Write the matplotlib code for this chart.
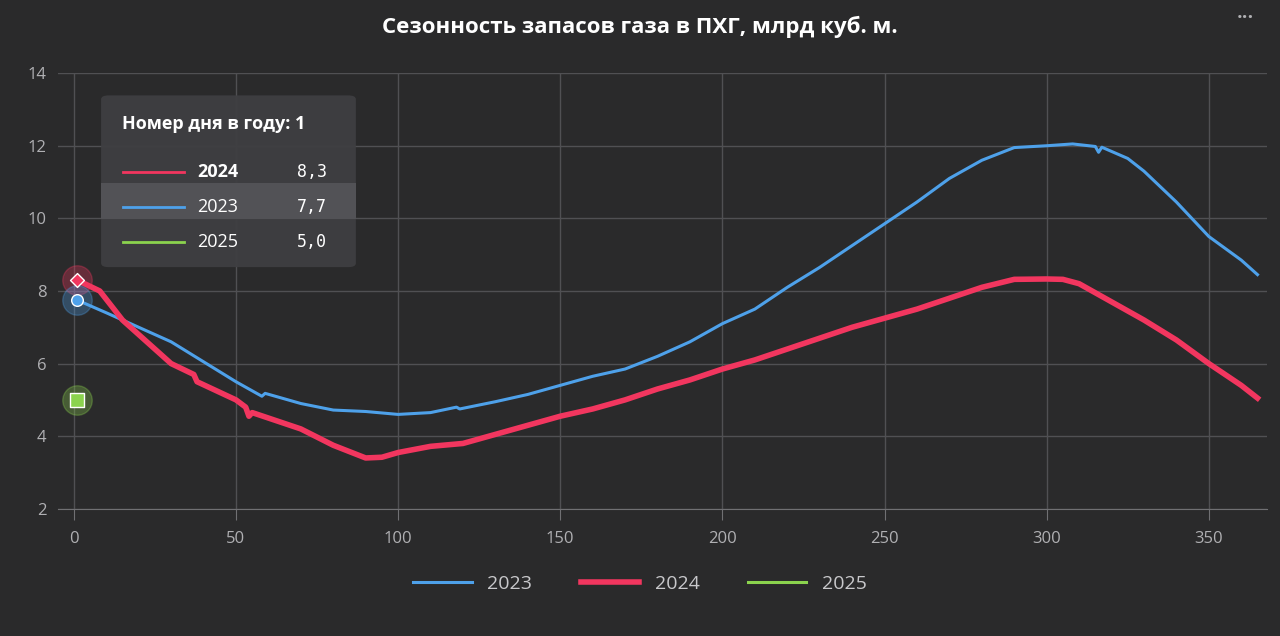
import numpy as np
import matplotlib.pyplot as plt
from matplotlib.patches import FancyBboxPatch

days_2023 = [1, 10, 20, 30, 40, 50, 58, 59, 70, 80, 90, 100, 110, 118, 119, 130, 140, 150, 160, 170, 180,
             190, 200, 210, 220, 230, 240, 250, 260, 270, 280, 290, 300, 308, 315, 316, 317, 325, 330,
             340, 350, 360, 365]
vals_2023 = [7.75, 7.4, 7.0, 6.6, 6.05, 5.5, 5.1, 5.18, 4.9, 4.72, 4.68, 4.6, 4.65, 4.8, 4.75, 4.95, 5.15,
             5.4, 5.65, 5.85, 6.2, 6.6, 7.1, 7.5, 8.1, 8.65, 9.25, 9.85, 10.45, 11.1, 11.6, 11.95, 12.0,
             12.05, 11.98, 11.82, 11.96, 11.65, 11.3, 10.45, 9.5, 8.85, 8.45]
days_2024 = [1, 8, 15, 20, 30, 37, 38, 50, 53, 54, 55, 60, 70, 80, 90, 95, 100, 110, 120, 130, 140, 150,
             160, 170, 180, 190, 200, 210, 220, 230, 240, 250, 260, 270, 280, 290, 300, 305, 310, 320,
             330, 340, 350, 355, 360, 365]
vals_2024 = [8.3, 8.0, 7.2, 6.8, 6.0, 5.7, 5.5, 5.0, 4.8, 4.55, 4.65, 4.5, 4.2, 3.75, 3.4, 3.42, 3.55,
             3.72, 3.8, 4.05, 4.3, 4.55, 4.75, 5.0, 5.3, 5.55, 5.85, 6.1, 6.4, 6.7, 7.0, 7.25, 7.5, 7.8,
             8.1, 8.32, 8.33, 8.32, 8.2, 7.7, 7.2, 6.65, 6.0, 5.7, 5.4, 5.05]
days_2025 = [1]
vals_2025 = [5.0]

bg = '#2a2a2b'
c23, c24, c25 = '#4ea1ea', '#f2365f', '#8bd34e'
plt.rcParams['font.family'] = ['Open Sans', 'DejaVu Sans']

fig = plt.figure(figsize=(12.8, 6.36), dpi=100, facecolor=bg)
ax = fig.add_axes([0.045, 0.2, 0.945, 0.685], facecolor=bg)
ax.plot(days_2023, vals_2023, color=c23, lw=2.2, label='2023')
ax.plot(days_2024, vals_2024, color=c24, lw=4, label='2024')
ax.plot(days_2025, vals_2025, color=c25, lw=2.2, label='2025')

ax.scatter(days_2024[:1], vals_2024[:1], s=450, color=c24, alpha=0.3, zorder=4)
ax.scatter(days_2024[:1], vals_2024[:1], s=50, marker='D', color=c24, edgecolor='white', zorder=5)
ax.scatter(days_2023[:1], vals_2023[:1], s=450, color=c23, alpha=0.3, zorder=4)
ax.scatter(days_2023[:1], vals_2023[:1], s=70, color=c23, edgecolor='white', zorder=5)
ax.scatter(days_2025[:1], vals_2025[:1], s=450, color=c25, alpha=0.3, zorder=4)
ax.scatter(days_2025[:1], vals_2025[:1], s=100, marker='s', color=c25, edgecolor='white', zorder=5)

ax.set_xlim(-5, 368)
ax.set_ylim(2, 14)
ax.set_xticks(range(0, 351, 50))
ax.set_yticks(range(2, 15, 2))
ax.grid(color='#505053', lw=1)
for s in ax.spines.values():
    s.set_visible(False)
ax.spines['bottom'].set_visible(True)
ax.spines['bottom'].set_color('#707073')
ax.tick_params(colors='#b0b0b3', labelsize=12, length=0, pad=8)
ax.tick_params(axis='x', length=8, color='#707073', direction='out')

fig.suptitle('Сезонность запасов газа в ПХГ, млрд куб. м.', color='white', fontsize=16,
             fontweight='bold', y=0.975)
fig.text(0.98, 0.965, '•••', color='#b0b0b3', fontsize=11, ha='right')

leg = fig.legend(loc='lower center', ncol=3, frameon=False, fontsize=14, bbox_to_anchor=(0.5, 0.04),
                 handlelength=3, columnspacing=2.5)
for t in leg.get_texts():
    t.set_color('#c8c8cb')

# tooltip
box = FancyBboxPatch((0.079, 0.58), 0.199, 0.27, boxstyle='round,pad=0,rounding_size=0.006',
                     transform=fig.transFigure, facecolor='#3f3f42', edgecolor='none', alpha=0.95)
fig.patches.append(box)
fig.patches.append(plt.Rectangle((0.079, 0.655), 0.199, 0.058, transform=fig.transFigure,
                                 facecolor='#525256', edgecolor='none'))
fig.text(0.095, 0.805, 'Номер дня в году: 1', color='white', fontsize=13, fontweight='bold', va='center')
rows = [('2024', '8,3', c24, 'bold', 0.73), ('2023', '7,7', c23, 'normal', 0.675), ('2025', '5,0', c25, 'normal', 0.62)]
for name, v, c, w, y in rows:
    fig.add_artist(plt.Line2D([0.096, 0.144], [y, y], color=c, lw=2, transform=fig.transFigure))
    fig.text(0.154, y, name, color='white', fontsize=13, fontweight=w, va='center')
    fig.text(0.232, y, v, color='white', fontsize=12, family='DejaVu Sans Mono', va='center')

fig.savefig('out.png', dpi=100, facecolor=bg)
